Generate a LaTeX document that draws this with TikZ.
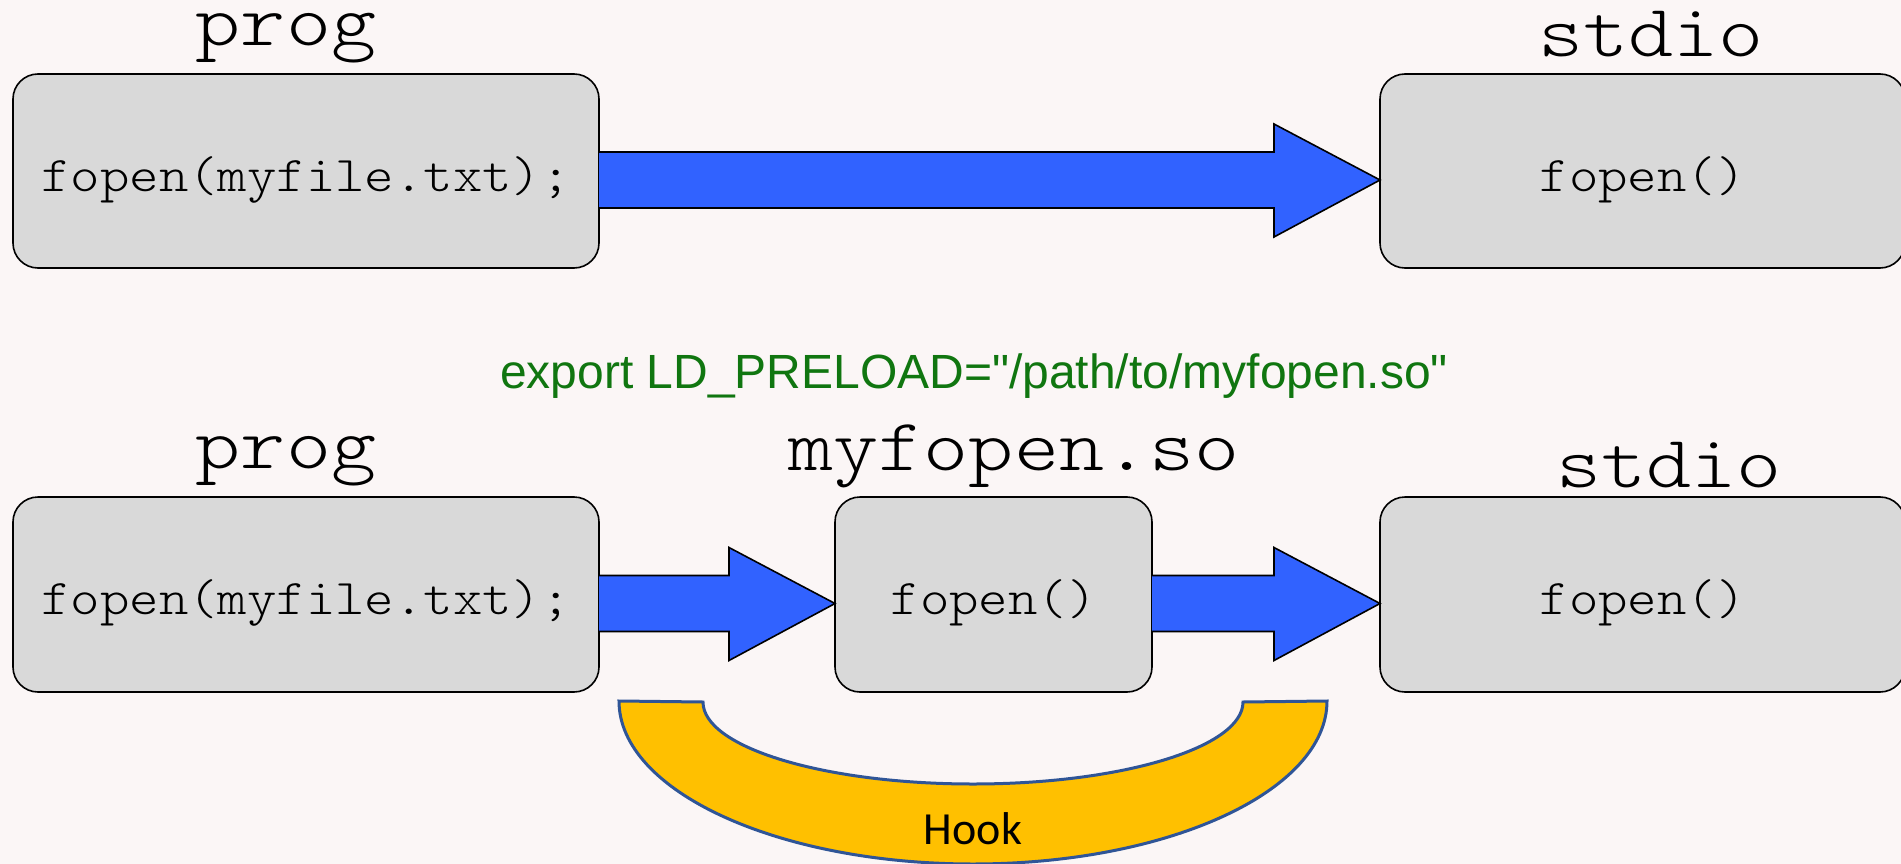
\documentclass[tikz,border=0pt]{standalone}
\usepackage{graphicx}
\usepackage{fontspec}
\setmainfont{Liberation Sans}
\newfontfamily\expfont[Ligatures=TeXOff]{Liberation Sans}
\newfontfamily\codefont{lmmonolt10-regular.otf}
\newfontfamily\calfont{Carlito}
\usetikzlibrary{calc}
\definecolor{bg}{RGB}{251,246,246}
\definecolor{boxgray}{RGB}{217,217,217}
\definecolor{arrblue}{RGB}{49,98,255}
\definecolor{hookyel}{RGB}{255,192,0}
\definecolor{hookedge}{RGB}{47,85,151}
\definecolor{expgreen}{RGB}{16,118,16}
\newcommand\widetxt[2]{\scalebox{#1}[1]{#2}}
\newcommand\fatarrow[2]{\draw[fat] ($(#1.east)+(0,19)$) -- ($(#2.west)+(-106,19)$) -- ($(#2.west)+(-106,47)$) -- ($(#2.west)+(0,-9)$) -- ($(#2.west)+(-106,-66)$) -- ($(#2.west)+(-106,-37)$) -- ($(#1.east)+(0,-37)$);}
\begin{document}
\begin{tikzpicture}[x=1pt,y=1pt,
  box/.style={draw=black,line width=1.6pt,fill=boxgray,rounded corners=25pt,inner sep=0pt,outer sep=0pt,
    font=\codefont\fontsize{50}{56}\selectfont,text height=50pt,text depth=10pt},
  lbl/.style={anchor=base,inner sep=0pt,text height=40pt,text depth=14pt,font=\codefont\fontsize{74}{80}\selectfont},
  fat/.style={fill=arrblue,draw=black,line width=1.6pt,line join=miter},
  hookshape/.style={fill=hookyel,draw=hookedge,line width=3pt}]
\fill[bg] (0,0) rectangle (1901,-864);
\useasboundingbox (0,0) rectangle (1901,-864);
% top row
\node[box,minimum width=586pt,minimum height=194pt] (p1) at (306,-171) {\widetxt{1.12}{fopen(myfile.txt);}};
\node[box,minimum width=525pt,minimum height=194pt] (s1) at (1642.5,-171) {\widetxt{1.12}{fopen()}};
\node[lbl] (lp1) at (286,-46) {\widetxt{1.16}{prog}};
\node[lbl] (ls1) at (1651,-57) {\widetxt{1.16}{stdio}};
\fatarrow{p1}{s1}
% middle text
\node[anchor=base,inner sep=0pt,text=expgreen,font=\expfont\fontsize{48}{52}\selectfont] (exp) at (974,-388) {export LD\_PRELOAD="/path/to/myfopen.so"};
% bottom row
\node[box,minimum width=586pt,minimum height=195pt] (p2) at (306,-594.5) {\widetxt{1.12}{fopen(myfile.txt);}};
\node[box,minimum width=317pt,minimum height=195pt] (m2) at (993.5,-594.5) {\widetxt{1.12}{fopen()}};
\node[box,minimum width=525pt,minimum height=195pt] (s2) at (1642.5,-594.5) {\widetxt{1.12}{fopen()}};
\node[lbl] (lp2) at (286,-468) {\widetxt{1.16}{prog}};
\node[lbl] (lm2) at (1014,-470) {\widetxt{1.16}{myfopen.so}};
\node[lbl] (ls2) at (1669,-487) {\widetxt{1.16}{stdio}};
\fatarrow{p2}{m2}
\fatarrow{m2}{s2}
% hook
\draw[hookshape] (619,-701) arc[start angle=180,end angle=360,x radius=354,y radius=163] -- (1243,-702) arc[start angle=0,end angle=-180,x radius=270,y radius=82] -- cycle;
\node[anchor=base,inner sep=0pt,font=\calfont\fontsize{46}{50}\selectfont] (hk) at (973,-844) {Hook};
\end{tikzpicture}
\end{document}
